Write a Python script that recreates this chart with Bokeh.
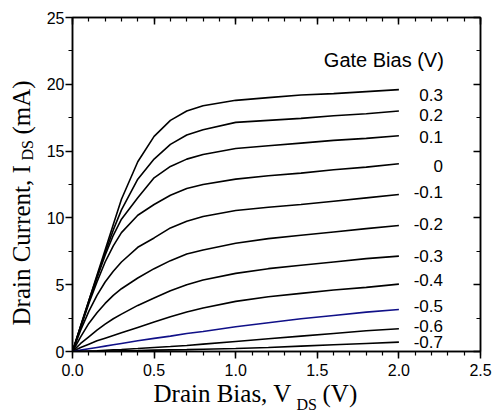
import math
from bokeh.plotting import figure
from bokeh.layouts import column, row
from bokeh.models import (Range1d, LinearAxis, Label, SingleIntervalTicker,
                          PrintfTickFormatter, CustomJSTickFormatter)
from bokeh.embed import file_html
from bokeh.resources import INLINE

# ---- data ----
vds = [0, 0.05, 0.1, 0.15, 0.2, 0.25, 0.3, 0.4, 0.5, 0.6, 0.7, 0.8, 1.0, 1.2, 1.4, 1.6, 1.8, 2.0]

gate_labels = ["0.3", "0.2", "0.1", "0", "-0.1", "-0.2", "-0.3", "-0.4", "-0.5", "-0.6", "-0.7"]

ids_p03 = [0, 1.9, 3.8, 5.7, 7.6, 9.5, 11.4, 14.2, 16.1, 17.3, 18.0, 18.4, 18.8, 19.0, 19.2, 19.3, 19.45, 19.6]
ids_p02 = [0, 1.9, 3.8, 5.6, 7.4, 9.1, 10.6, 12.9, 14.4, 15.5, 16.2, 16.6, 17.15, 17.3, 17.45, 17.65, 17.8, 18.0]
ids_p01 = [0, 1.85, 3.7, 5.5, 7.2, 8.7, 9.9, 11.5, 13.0, 13.85, 14.4, 14.75, 15.2, 15.4, 15.6, 15.8, 15.95, 16.15]
ids_000 = [0, 1.8, 3.6, 5.2, 6.7, 7.9, 8.9, 10.2, 11.0, 11.7, 12.2, 12.5, 12.9, 13.15, 13.35, 13.6, 13.8, 14.05]
ids_m01 = [0, 1.6, 3.0, 4.2, 5.2, 6.0, 6.7, 7.8, 8.5, 9.25, 9.75, 10.1, 10.55, 10.8, 11.0, 11.25, 11.5, 11.75]
ids_m02 = [0, 1.1, 2.1, 2.9, 3.6, 4.2, 4.7, 5.5, 6.2, 6.8, 7.3, 7.6, 8.1, 8.45, 8.7, 8.95, 9.2, 9.43]
ids_m03 = [0, 0.6, 1.1, 1.6, 2.05, 2.45, 2.8, 3.45, 4.0, 4.55, 5.0, 5.35, 5.85, 6.2, 6.45, 6.7, 6.95, 7.14]
ids_m04 = [0, 0.3, 0.55, 0.8, 1.0, 1.2, 1.4, 1.8, 2.2, 2.6, 2.95, 3.25, 3.75, 4.1, 4.35, 4.6, 4.8, 5.04]
ids_m05 = [0, 0.1, 0.2, 0.3, 0.4, 0.5, 0.6, 0.8, 0.98, 1.15, 1.35, 1.5, 1.85, 2.15, 2.45, 2.7, 2.95, 3.14]
ids_m06 = [0, 0.02, 0.04, 0.06, 0.09, 0.12, 0.15, 0.22, 0.3, 0.37, 0.45, 0.55, 0.75, 0.95, 1.15, 1.35, 1.55, 1.70]
ids_m07 = [0, 0.005, 0.01, 0.02, 0.03, 0.04, 0.05, 0.07, 0.1, 0.12, 0.14, 0.17, 0.23, 0.3, 0.4, 0.5, 0.6, 0.70]

series = [ids_p03, ids_p02, ids_p01, ids_000, ids_m01, ids_m02, ids_m03,
          ids_m04, ids_m05, ids_m06, ids_m07]

# label nudges in screen pixels (layout only)
label_nudge = [-5, -4, -1, -2, 3, 2, 0, 4, 4, 3, 0]

SANS = "Liberation Sans"
SERIF = "Liberation Serif"
W, H = 493, 412
YW = 40        # width of the strip holding the y-axis title
MH = 384       # height of the main plot canvas
XH = H - MH    # height of the strip holding the x-axis title

p = figure(width=W - YW, height=MH, output_backend="svg", toolbar_location=None,
           x_range=Range1d(0, 2.5), y_range=Range1d(0, 25),
           min_border_left=72 - YW, min_border_right=13, min_border_top=17,
           min_border_bottom=MH - 351)
p.grid.visible = False
p.outline_line_color = "black"
p.outline_line_width = 1.5
p.background_fill_color = "white"
p.border_fill_color = "white"

xt = SingleIntervalTicker(interval=0.5, num_minor_ticks=5)
yt = SingleIntervalTicker(interval=5, num_minor_ticks=2)

for ax in p.xaxis:
    ax.ticker = xt
    ax.formatter = PrintfTickFormatter(format="%.1f")
for ax in p.yaxis:
    ax.ticker = yt
    ax.formatter = PrintfTickFormatter(format="%d")

for ax in list(p.xaxis) + list(p.yaxis):
    ax.axis_line_width = 1.5
    ax.major_tick_line_width = 1.5
    ax.minor_tick_line_width = 1.2
    ax.major_tick_in = 0
    ax.major_tick_out = 7
    ax.minor_tick_in = 0
    ax.minor_tick_out = 4
    ax.major_label_text_font = SANS
    ax.major_label_text_font_size = "16px"
    ax.major_label_text_color = "black"
p.xaxis.major_label_standoff = 5
p.yaxis.major_label_standoff = 1

blank = CustomJSTickFormatter(code="return ''")
top = LinearAxis(ticker=xt, formatter=blank,
                 major_tick_in=7, major_tick_out=0, minor_tick_in=4,
                 minor_tick_out=0, major_label_standoff=0,
                 axis_line_width=1.5, major_tick_line_width=1.5,
                 minor_tick_line_width=1.2)
right = LinearAxis(ticker=yt, formatter=blank,
                   major_tick_in=7, major_tick_out=0, minor_tick_in=4,
                   minor_tick_out=0, major_label_standoff=0,
                   axis_line_width=1.5, major_tick_line_width=1.5,
                   minor_tick_line_width=1.2)
p.add_layout(top, "above")
p.add_layout(right, "right")

for lab, ys, nud in zip(gate_labels, series, label_nudge):
    color = "#101088" if lab == "-0.5" else "black"
    p.line(vds, ys, line_color=color, line_width=1.6)
    p.add_layout(Label(x=2.27, y=ys[-1], text=lab, text_align="right",
                       text_baseline="middle", text_font=SANS,
                       text_font_size="17px", text_color="black",
                       y_offset=nud))

p.add_layout(Label(x=1.54, y=21.26, text="Gate Bias (V)", text_align="left",
                   text_baseline="alphabetic", text_font=SANS,
                   text_font_size="20px", text_color="black", y_offset=7))


def text_strip(w, h):
    # a bare canvas used only to hold the axis titles
    f = figure(width=w, height=h, output_backend="svg", toolbar_location=None,
               x_range=Range1d(0, 1), y_range=Range1d(0, 1),
               x_axis_location=None, y_axis_location=None,
               min_border_left=0, min_border_right=0, min_border_top=0,
               min_border_bottom=0)
    f.grid.visible = False
    f.outline_line_color = None
    f.background_fill_color = "white"
    f.border_fill_color = "white"
    return f


def tlabel(px, py, text, size, angle=0.0):
    # px, py: canvas pixels from the strip's top-left corner
    return Label(x=px, y=py, x_units="canvas", y_units="canvas",
                 text=text, angle=angle, text_align="left",
                 text_baseline="alphabetic", text_font=SERIF,
                 text_font_size=size, text_color="black")


# y-axis title strip (left of the plot)
ystrip = text_strip(YW, MH)
ang = math.pi / 2
ystrip.add_layout(tlabel(21, 325, "Drain Current, I", "25px", ang))
ystrip.add_layout(tlabel(27, 160, "DS", "16px", ang))
ystrip.add_layout(tlabel(21, 134, "(mA)", "25px", ang))

# x-axis title strip (below the plot); strip starts at page y = MH
xstrip = text_strip(W, XH)
xstrip.add_layout(tlabel(153, 393 - MH, "Drain Bias, V", "25px"))
xstrip.add_layout(tlabel(296, 404 - MH, "DS", "16px"))
xstrip.add_layout(tlabel(322, 393 - MH, "(V)", "25px"))

layout = column(row(ystrip, p, spacing=0), xstrip, spacing=0)

open("out.html", "w").write(file_html(layout, INLINE))
